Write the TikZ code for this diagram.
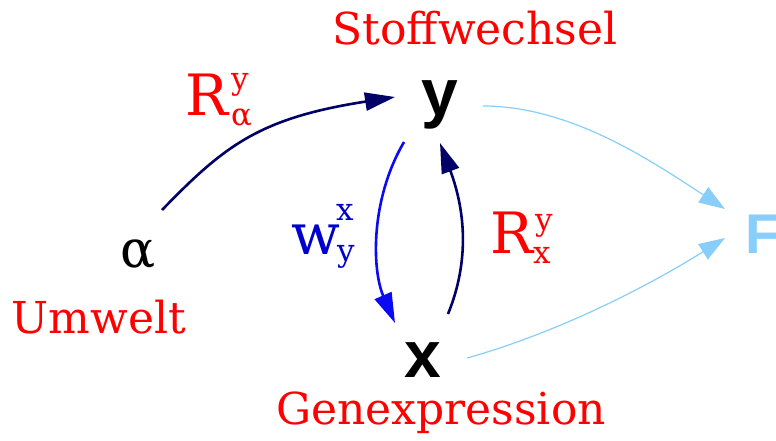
\documentclass[tikz,border=0pt]{standalone}
\usepackage{fontspec}
\setmainfont{DejaVu Serif}
\newfontfamily\bsans{Liberation Sans}
\usetikzlibrary{arrows.meta,calc}
\definecolor{navyc}{HTML}{000066}
\definecolor{bluec}{HTML}{0A0AF5}
\definecolor{wblue}{HTML}{0000CC}
\definecolor{lightc}{HTML}{87CEFA}
\tikzset{
  lab/.style={text=red, font=\fontsize{44}{44}\selectfont, inner sep=0pt, anchor=base},
  bigvar/.style={font=\bsans\bfseries\fontsize{66}{66}\selectfont, inner sep=0pt, anchor=base},
  mainsym/.style={font=\fontsize{57}{57}\selectfont, inner sep=0pt, anchor=base west},
  idx/.style={font=\fontsize{31}{31}\selectfont, inner sep=0pt, anchor=base west},
  navyarr/.style={draw=navyc, line width=2.6pt, -{Triangle[length=30pt,width=18pt]}},
  bluearr/.style={draw=bluec, line width=2.6pt, -{Triangle[length=30pt,width=18pt]}},
  lightarr/.style={draw=lightc, line width=1.2pt, -{Triangle[length=26pt,width=18pt]}}
}
\begin{document}
\begin{tikzpicture}[x=1pt,y=-1pt]
\useasboundingbox (0,0) rectangle (776,440);
\clip (0,0) rectangle (776,440);
\fill[white] (0,0) rectangle (776,440);

% main variables
\node[bigvar] (ny) at (440,115) {y};
\node[bigvar] (nx) at (423,377) {x};
\node[bigvar, text=lightc, anchor=base west, font=\bsans\bfseries\fontsize{56}{56}\selectfont] (nF) at (745,253) {F};
\node[font=\fontsize{52}{52}\selectfont, inner sep=0pt, anchor=base] (na) at (138,267) {α};

% captions
\node[lab] (stoff) at (475,44) {Stoffwechsel};
\node[lab] (umw) at (99,333) {Umwelt};
\node[lab] (gen) at (441,424) {Genexpression};

% R_alpha^y
\node[mainsym, text=red] (r1) at (185,115) {R};
\node[idx, text=red] (r1s) at (231,89) {y};
\node[idx, text=red] (r1i) at (231,125) {α};
% w_y^x
\node[mainsym, text=wblue] (w1) at (291,254) {w};
\node[idx, text=wblue] (w1s) at (336,220) {x};
\node[idx, text=wblue] (w1i) at (337,261) {y};
% R_x^y
\node[mainsym, text=red] (r2) at (490,253) {R};
\node[idx, text=red] (r2s) at (535,230) {y};
\node[idx, text=red] (r2i) at (533,263) {x};

% connectors
\draw[navyarr] ($(na.base)+(24,-57)$) .. controls (225,145) and (260,118) .. ($(ny.base)+(-45,-18)$);
\draw[bluearr] ($(ny.base)+(-36,27)$) .. controls (370,200) and (372,270) .. ($(nx.base)+(-28,-54)$);
\draw[navyarr] ($(nx.base)+(25,-63)$) .. controls (470,260) and (465,210) .. ($(ny.base)+(0,28)$);
\draw[lightarr] ($(ny.base)+(43,-9)$) .. controls (570,106) and (650,160) .. ($(nF.base west)+(-20,-44)$);
\draw[lightarr] ($(nx.base)+(44,-19)$) .. controls (560,332) and (650,285) .. ($(nF.base west)+(-20,-15)$);
\end{tikzpicture}
\end{document}
